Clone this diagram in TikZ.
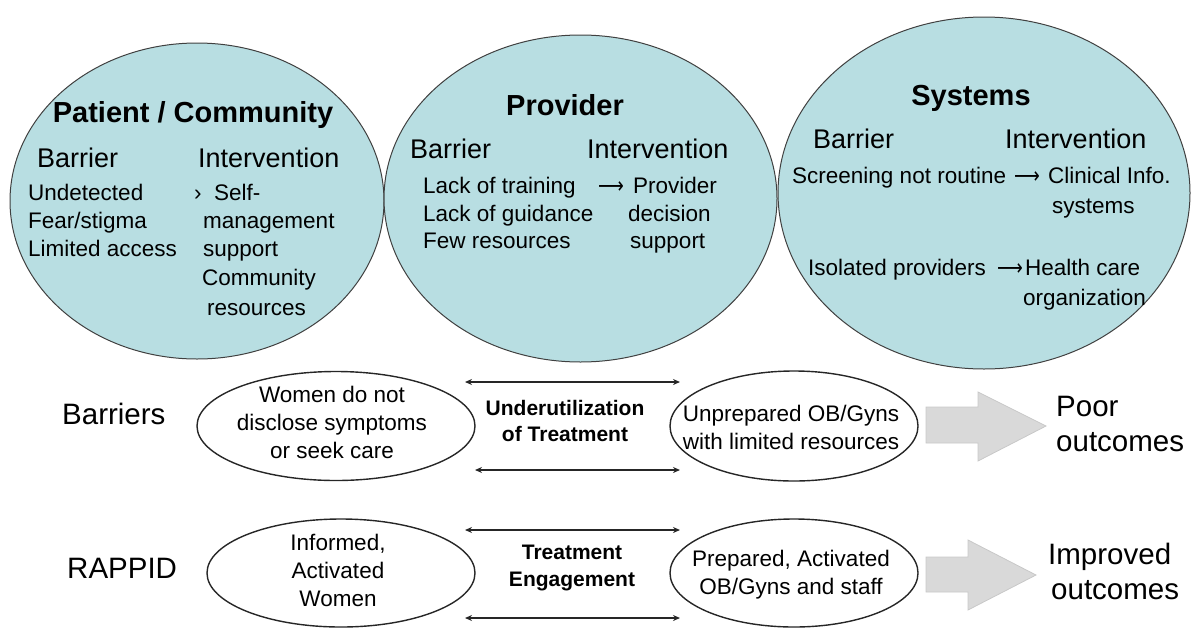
\documentclass[tikz,border=0pt]{standalone}
\usepackage{fontspec}
\setmainfont{Liberation Sans}
\newfontfamily\symf{DejaVu Sans}
\usetikzlibrary{shapes.geometric,arrows.meta}
\definecolor{bigfill}{RGB}{184,222,226}
\definecolor{blockfill}{RGB}{217,217,217}
\definecolor{blockline}{RGB}{200,200,200}
\newcommand{\ftitle}{\fontsize{29}{34}\bfseries\selectfont}
\newcommand{\fhead}{\fontsize{27}{32}\selectfont}
\newcommand{\fitem}{\fontsize{22.5}{28}\selectfont}
\newcommand{\fbig}{\fontsize{29.5}{35}\selectfont}
\newcommand{\fmid}{\fontsize{21}{26.5}\bfseries\selectfont}
\newcommand{\longarr}{\scalebox{0.8}[1]{\symf ⟶}}
\tikzset{
  bigell/.style={ellipse, draw=black!75, fill=bigfill, line width=1pt, inner sep=0pt},
  smallell/.style={ellipse, draw=black!85, fill=white, line width=1.4pt, inner sep=0pt},
  ttl/.style={font=\ftitle, anchor=base, inner sep=0pt},
  hd/.style={font=\fhead, anchor=base west, inner sep=0pt},
  itm/.style={font=\fitem, anchor=base west, inner sep=0pt},
  arrglyph/.style={font=\fitem, anchor=base, inner sep=0pt},
  elltext/.style={font=\fitem, align=center, inner sep=0pt},
  midtext/.style={font=\fmid, align=center, inner sep=0pt},
  bigtext/.style={font=\fbig, anchor=base west, inner sep=0pt},
  dblarrow/.style={{Stealth[length=7pt,width=6pt]}-{Stealth[length=7pt,width=6pt]}, line width=1.3pt, draw=black!85},
  blockarrow/.style={fill=blockfill, draw=blockline, line width=0.8pt}
}
\begin{document}
\begin{tikzpicture}[x=1pt,y=-1pt]
\useasboundingbox (0,0) rectangle (1193,627);
% big ellipses
\node[bigell, minimum width=374pt, minimum height=316pt] (pc) at (197,201) {};
\node[bigell, minimum width=393pt, minimum height=327pt] (pr) at (580.5,198.5) {};
\node[bigell, minimum width=412pt, minimum height=352pt] (sy) at (984,193) {};

% Patient / Community
\node[ttl] (pct) at (193,122) {Patient / Community};
\node[hd] (pcb) at (37,167) {Barrier};
\node[hd] (pci) at (198,167) {Intervention};
\node[itm] (pc1) at (28,200) {Undetected};
\node[itm] (pc2) at (28,228) {Fear/stigma};
\node[itm] (pc3) at (28,256) {Limited access};
\node[itm] (pc4) at (194,200) {›\ \ Self-};
\node[itm] (pc5) at (203,228) {management};
\node[itm] (pc6) at (203,256) {support};
\node[itm] (pc7) at (202,285) {Community};
\node[itm] (pc8) at (207,315) {resources};

% Provider
\node[ttl] (prt) at (565,115) {Provider};
\node[hd] (prb) at (410,158) {Barrier};
\node[hd] (pri) at (587,158) {Intervention};
\node[itm] (pr1) at (423,193) {Lack of training};
\node[itm] (pr2) at (423,221) {Lack of guidance};
\node[itm] (pr3) at (423,248) {Few resources};
\node[arrglyph] (pra) at (611,193) {\longarr};
\node[itm] (pr4) at (633,193) {Provider};
\node[itm] (pr5) at (628,221) {decision};
\node[itm] (pr6) at (630,248) {support};

% Systems
\node[ttl] (syt) at (971,105) {Systems};
\node[hd] (syb) at (813,148) {Barrier};
\node[hd] (syi) at (1005,148) {Intervention};
\node[itm] (sy1) at (792,183) {Screening not routine};
\node[arrglyph] (sya) at (1027,183) {\longarr};
\node[itm] (sy2) at (1048,183) {Clinical Info.};
\node[itm] (sy3) at (1052,213) {systems};
\node[itm] (sy4) at (808,275) {Isolated providers};
\node[arrglyph] (syb2) at (1010,275) {\longarr};
\node[itm] (sy5) at (1025,275) {Health care};
\node[itm] (sy6) at (1023,305) {organization};

% bottom rows
\node[bigtext] (barr) at (62,424) {Barriers};
\node[bigtext] (rapp) at (67,578) {RAPPID};

\node[smallell, minimum width=278pt, minimum height=109pt] (wa) at (336,426) {};
\node[elltext] (wat) at (332,422) {Women do not\\disclose symptoms\\or seek care};
\node[smallell, minimum width=268pt, minimum height=108pt] (wb) at (341,573) {};
\node[elltext] (wbt) at (338,570) {Informed,\\Activated\\Women};
\node[smallell, minimum width=248pt, minimum height=110pt] (oa) at (794,426) {};
\node[elltext] (oat) at (791,427) {Unprepared OB/Gyns\\with limited resources};
\node[smallell, minimum width=248pt, minimum height=108pt] (ob) at (794,573) {};
\node[elltext] (obt) at (791,575) {Prepared, Activated\\OB/Gyns and staff};

\node[midtext] (ut) at (565,421) {Underutilization\\of Treatment};
\node[midtext] (te) at (572,568) {Treatment\\Engagement};

\coordinate (a1l) at (465,382); \coordinate (a1r) at (680,382);
\coordinate (a2l) at (475,470); \coordinate (a2r) at (680,470);
\coordinate (a3l) at (465,530); \coordinate (a3r) at (680,530);
\coordinate (a4l) at (465,618); \coordinate (a4r) at (680,618);
\draw[dblarrow] (a1l) -- (a1r);
\draw[dblarrow] (a2l) -- (a2r);
\draw[dblarrow] (a3l) -- (a3r);
\draw[dblarrow] (a4l) -- (a4r);

% block arrows
\draw[blockarrow] (926,407) -- (978,407) -- (978,392) -- (1046,426) -- (978,461) -- (978,443) -- (926,443) -- cycle;
\draw[blockarrow] (926,557) -- (968,557) -- (968,540) -- (1036,575) -- (968,610) -- (968,592) -- (926,592) -- cycle;

\node[bigtext] (po1) at (1056,416) {Poor};
\node[bigtext] (po2) at (1056,451) {outcomes};
\node[bigtext] (io1) at (1048,564) {Improved};
\node[bigtext] (io2) at (1051,599) {outcomes};
\end{tikzpicture}
\end{document}
